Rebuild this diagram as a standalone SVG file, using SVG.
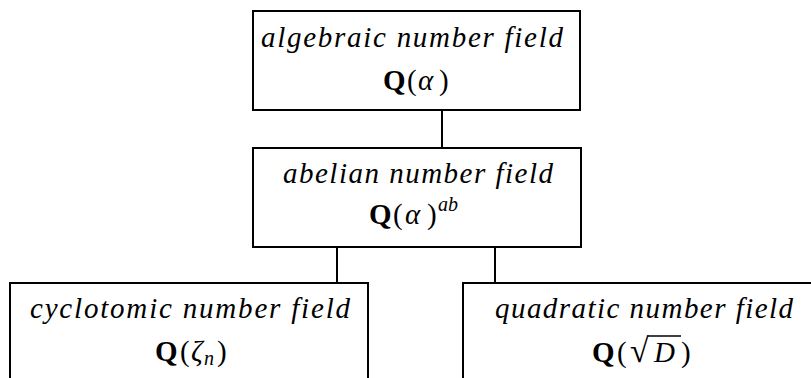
<svg xmlns="http://www.w3.org/2000/svg" width="811" height="378" viewBox="0 0 811 378">
<style>
.box{fill:#fff;stroke:#000;stroke-width:2}
.conn{stroke:#000;stroke-width:2;fill:none}
.it{font-family:"Liberation Serif","Times New Roman",serif;font-style:italic;font-size:29px;fill:#000}
.m{font-family:"Liberation Serif","Times New Roman",serif;font-size:29px;fill:#000}
.b{font-weight:bold}
.i{font-style:italic}
.s{font-size:20px;font-style:italic}
.r{font-size:34px}
</style>
<rect width="811" height="378" fill="#fff"/>
<g id="connectors">
<line class="conn" x1="442" y1="110" x2="442" y2="148"/>
<line class="conn" x1="337" y1="247" x2="337" y2="283"/>
<line class="conn" x1="495" y1="247" x2="495" y2="283"/>
</g>
<g id="algebraic">
<rect class="box" x="253" y="11" width="327" height="99"/>
<text class="it" x="261" y="47" textLength="302" lengthAdjust="spacing">algebraic number field</text>
<text class="m" y="90"><tspan class="b" x="383">Q</tspan><tspan x="407">(</tspan><tspan class="i" x="418">α</tspan><tspan x="439">)</tspan></text>
</g>
<g id="abelian">
<rect class="box" x="253" y="148" width="328" height="99"/>
<text class="it" x="283" y="183" textLength="270" lengthAdjust="spacing">abelian number field</text>
<text class="m" y="224"><tspan class="b" x="369">Q</tspan><tspan x="393">(</tspan><tspan class="i" x="405">α</tspan><tspan x="427">)</tspan><tspan class="s" x="438" y="211">ab</tspan></text>
</g>
<g id="cyclotomic">
<rect class="box" x="10" y="283" width="358" height="110"/>
<text class="it" x="30" y="318" textLength="320" lengthAdjust="spacing">cyclotomic number field</text>
<text class="m" y="361"><tspan class="b" x="155">Q</tspan><tspan x="180">(</tspan><tspan class="i" x="191">ζ</tspan><tspan class="s" x="204" y="365">n</tspan><tspan x="217" y="361">)</tspan></text>
</g>
<g id="quadratic">
<rect class="box" x="463" y="283" width="370" height="110"/>
<text class="it" x="495" y="318" textLength="298" lengthAdjust="spacing">quadratic number field</text>
<text class="m" y="362"><tspan class="b" x="592">Q</tspan><tspan x="617">(</tspan><tspan class="r" x="630">√</tspan><tspan class="i" x="654">D</tspan><tspan x="681">)</tspan></text>
<line x1="648" y1="336" x2="681" y2="336" stroke="#000" stroke-width="1.4"/>
</g>
</svg>
